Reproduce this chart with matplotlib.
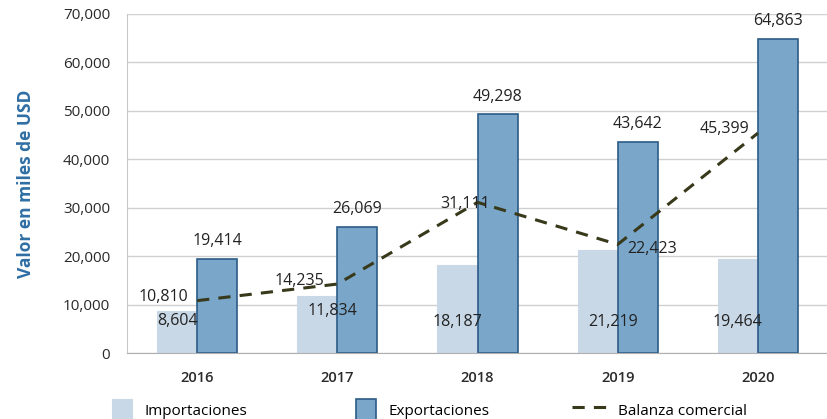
import matplotlib.pyplot as plt
import numpy as np

years = ["2016", "2017", "2018", "2019", "2020"]
importaciones = [8604, 11834, 18187, 21219, 19464]
exportaciones = [19414, 26069, 49298, 43642, 64863]
balanza = [10810, 14235, 31111, 22423, 45399]

plt.rcParams['font.family'] = ['Open Sans', 'DejaVu Sans']

fig = plt.figure(figsize=(8.28, 4.19), dpi=100)
ax = fig.add_axes([0.1534, 0.1575, 0.8466, 0.8091])

x = np.arange(len(years))
w = 0.286

b1 = ax.bar(x - w / 2, importaciones, w, color="#c9d8e7", edgecolor="#c9d8e7", linewidth=0.8,
            zorder=2, label="Importaciones")
b2 = ax.bar(x + w / 2, exportaciones, w, color="#79a6c9", edgecolor="#2c5c86", linewidth=1.2,
            zorder=2, label="Exportaciones")
ln, = ax.plot(x, balanza, color="#38391a", linestyle=(0, (4, 3)), linewidth=2.2, zorder=3,
              label="Balanza comercial")

# value labels
for i, v in enumerate(exportaciones):
    ax.annotate(f"{v:,}", (x[i] + w / 2, v), xytext=(0, 7), textcoords="offset points",
                ha="center", va="bottom", fontsize=11.5, color="#222222", zorder=5)

imp_y = [6600, 8600, 6300, 6500, 6500]
for i, v in enumerate(importaciones):
    ax.text(x[i] - w / 2 + (0.11 if i in (1, 3) else 0), imp_y[i], f"{v:,}",
            ha="center", va="center", fontsize=11.5, color="#222222", zorder=5)

bal_off = [(-24, 2.5), (-27, 2), (-9, -1), (25, -3), (-24, 3)]
for i, v in enumerate(balanza):
    ax.annotate(f"{v:,}", (x[i], v), xytext=bal_off[i], textcoords="offset points",
                ha="center", va="center", fontsize=11.5, color="#222222", zorder=5)

ax.set_xlim(-0.5, len(years) - 0.5)
ax.set_ylim(0, 70000)
ax.set_yticks(np.arange(0, 70001, 10000))
ax.set_yticklabels([f"{t:,}" for t in range(0, 70001, 10000)], fontsize=11, color="#2a2a2a")
ax.set_xticks(x)
ax.set_xticklabels(years, fontsize=10.5, color="#2a2a2a", fontweight="semibold")
ax.tick_params(axis="both", length=0, pad=12)
ax.tick_params(axis="x", pad=13)
ax.grid(axis="y", color="#d0d0d0", linewidth=1, zorder=0)
for s in ["top", "right"]:
    ax.spines[s].set_visible(False)
ax.spines["left"].set_color("#c8c8c8")
ax.spines["bottom"].set_color("#b0b0b0")

ax.set_ylabel("Valor en miles de USD", fontsize=12.5, fontweight="bold", color="#2f6ea4",
              labelpad=20)

# legend entries placed one by one along the bottom
legend_items = [(b1, "Importaciones", 0.128), (b2, "Exportaciones", 0.423),
                (ln, "Balanza comercial", 0.684)]
for h, lab, lx in legend_items:
    fig.legend([h], [lab], loc="lower left", bbox_to_anchor=(lx, -0.018), frameon=False,
               fontsize=11, handlelength=1.3 if h is not ln else 2.2, handleheight=1.8,
               handletextpad=0.8, borderaxespad=0, borderpad=0.4)

fig.savefig("out.png", dpi=100)
